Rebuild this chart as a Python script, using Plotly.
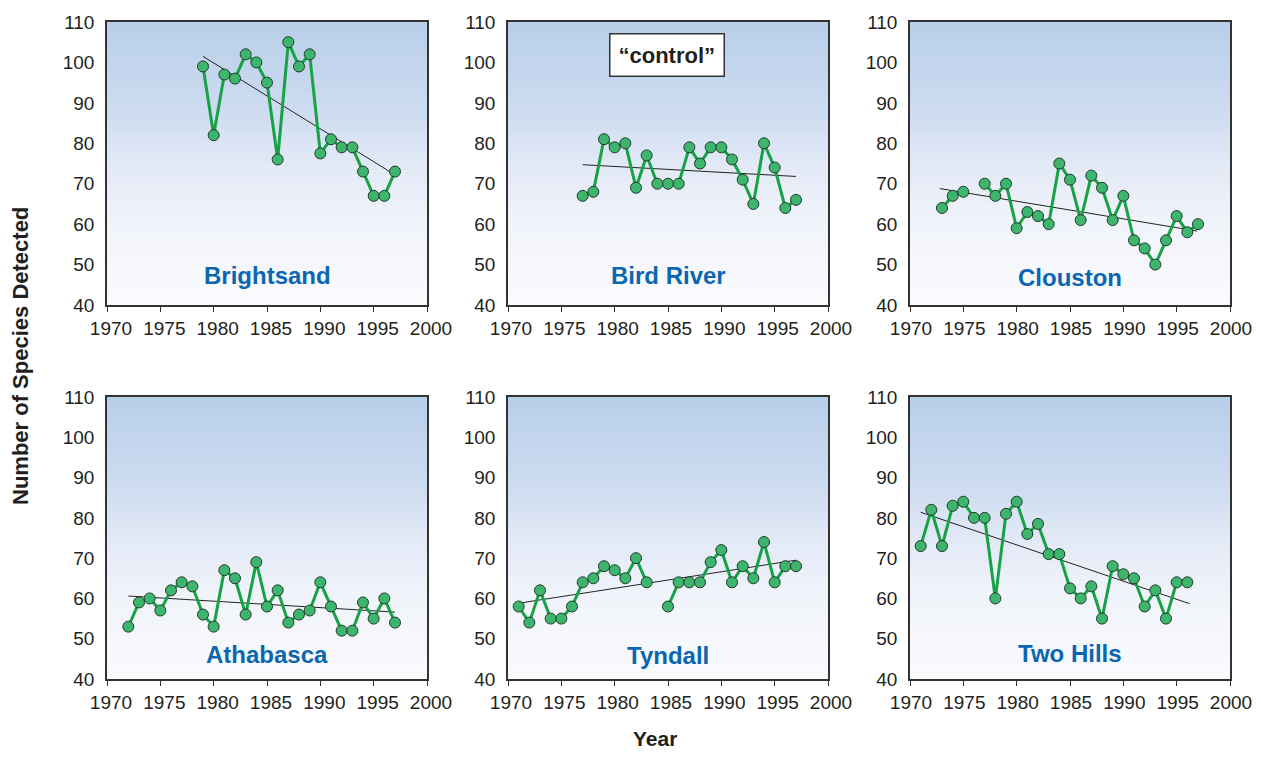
import base64
import struct
import zlib

import plotly.graph_objects as go
from plotly.subplots import make_subplots

# ---- data ----
sites = ["Brightsand", "Bird River", "Clouston", "Athabasca", "Tyndall", "Two Hills"]

brightsand_years = list(range(1979, 1998))
brightsand_vals = [99, 82, 97, 96, 102, 100, 95, 76, 105, 99, 102, 77.5, 81, 79, 79, 73, 67, 67, 73]
brightsand_trend_x = [1979, 1996.5]
brightsand_trend_y = [101.5, 73]

birdriver_years = list(range(1977, 1998))
birdriver_vals = [67, 68, 81, 79, 80, 69, 77, 70, 70, 70, 79, 75, 79, 79, 76, 71, 65, 80, 74, 64, 66]
birdriver_trend_x = [1977, 1997]
birdriver_trend_y = [74.7, 71.8]

clouston_years = list(range(1973, 1998))
clouston_vals = [64, 67, 68, None, 70, 67, 70, 59, 63, 62, 60, 75, 71, 61, 72, 69, 61, 67, 56, 54, 50, 56, 62, 58, 60]
clouston_trend_x = [1972.8, 1996.9]
clouston_trend_y = [68.8, 58.3]

athabasca_years = list(range(1972, 1998))
athabasca_vals = [53, 59, 60, 57, 62, 64, 63, 56, 53, 67, 65, 56, 69, 58, 62, 54, 56, 57, 64, 58, 52, 52, 59, 55, 60, 54]
athabasca_trend_x = [1972, 1997]
athabasca_trend_y = [60.6, 56.6]

tyndall_years = list(range(1971, 1998))
tyndall_vals = [58, 54, 62, 55, 55, 58, 64, 65, 68, 67, 65, 70, 64, None, 58, 64, 64, 64, 69, 72, 64, 68, 65, 74, 64, 68, 68]
tyndall_trend_x = [1971, 1997]
tyndall_trend_y = [58.8, 69.5]

twohills_years = list(range(1971, 1997))
twohills_vals = [73, 82, 73, 83, 84, 80, 80, 60, 81, 84, 76, 78.5, 71, 71, 62.5, 60, 63, 55, 68, 66, 65, 58, 62, 55, 64, 64]
twohills_trend_x = [1971, 1996.2]
twohills_trend_y = [81.4, 58.7]

x_ticks = [1970, 1975, 1980, 1985, 1990, 1995, 2000]
y_ticks = [40, 50, 60, 70, 80, 90, 100, 110]

series = [
    (brightsand_years, brightsand_vals, brightsand_trend_x, brightsand_trend_y),
    (birdriver_years, birdriver_vals, birdriver_trend_x, birdriver_trend_y),
    (clouston_years, clouston_vals, clouston_trend_x, clouston_trend_y),
    (athabasca_years, athabasca_vals, athabasca_trend_x, athabasca_trend_y),
    (tyndall_years, tyndall_vals, tyndall_trend_x, tyndall_trend_y),
    (twohills_years, twohills_vals, twohills_trend_x, twohills_trend_y),
]


# sky-ish vertical gradient used as the plot background
def gradient_png():
    stops = [(0.0, (184, 207, 233)), (0.3, (204, 219, 240)), (0.5, (226, 233, 246)),
             (0.7, (240, 243, 250)), (1.0, (250, 251, 253))]
    h = 256
    rows = []
    for i in range(h):
        t = i / (h - 1)
        for (t0, c0), (t1, c1) in zip(stops[:-1], stops[1:]):
            if t0 <= t <= t1:
                f = (t - t0) / (t1 - t0)
                rows.append(bytes(int(round(a + (b - a) * f)) for a, b in zip(c0, c1)))
                break
    raw = b"".join(b"\x00" + r for r in rows)

    def chunk(tag, data):
        c = struct.pack(">I", len(data)) + tag + data
        return c + struct.pack(">I", zlib.crc32(tag + data) & 0xFFFFFFFF)

    png = b"\x89PNG\r\n\x1a\n" + chunk(b"IHDR", struct.pack(">IIBBBBB", 1, h, 8, 2, 0, 0, 0))
    png += chunk(b"IDAT", zlib.compress(raw)) + chunk(b"IEND", b"")
    return "data:image/png;base64," + base64.b64encode(png).decode()


bg = gradient_png()

# page body has an 8px margin, so the figure is 16px smaller than the window
W, H = 1245, 744
# plot boxes in figure pixels (left, right, top, bottom)
col_px = [(99, 419), (500, 820), (902, 1222)]
row_px = [(14, 297), (389, 671)]
label_shift = [4, 3, 1]
label_y = [0.105, 0.105, 0.098, 0.087, 0.085, 0.089]

fig = make_subplots(rows=2, cols=3)

tick_font = dict(family="Liberation Sans, Arial", size=19, color="#231f20")
line_green = "#16a245"
marker_green = "#3db56c"

for i, (yrs, vals, tx, ty) in enumerate(series):
    r, c = i // 3 + 1, i % 3 + 1
    fig.add_trace(go.Scatter(x=tx, y=ty, mode="lines", line=dict(color="#222222", width=1),
                             showlegend=False, hoverinfo="skip"), row=r, col=c)
    fig.add_trace(go.Scatter(x=yrs, y=vals, mode="lines+markers", connectgaps=False,
                             line=dict(color=line_green, width=3),
                             marker=dict(size=11, color=marker_green, line=dict(color="#1f3b2b", width=1)),
                             showlegend=False, name=sites[i]), row=r, col=c)

    (x0, x1), (y0, y1) = col_px[c - 1], row_px[r - 1]
    dom_x = [x0 / W, x1 / W]
    dom_y = [1 - y1 / H, 1 - y0 / H]
    fig.update_xaxes(domain=dom_x, range=[1970, 2000], tickvals=x_ticks, ticks="outside", ticklen=5,
                     tickcolor="#333333", showline=True, linecolor="#333333", linewidth=1.5, mirror=True,
                     showgrid=False, zeroline=False, tickfont=tick_font, ticklabelshift=label_shift[c - 1],
                     automargin=False, row=r, col=c)
    fig.update_yaxes(domain=dom_y, range=[40, 110], tickvals=y_ticks, ticks="", showline=True,
                     linecolor="#333333", linewidth=1.5, mirror=True, showgrid=False, zeroline=False,
                     tickfont=tick_font, ticklabelstandoff=7, automargin=False, row=r, col=c)

    fig.add_layout_image(dict(source=bg, xref="paper", yref="paper", x=dom_x[0], y=dom_y[1],
                              sizex=dom_x[1] - dom_x[0], sizey=dom_y[1] - dom_y[0],
                              sizing="stretch", xanchor="left", yanchor="top", layer="below"))

    fig.add_annotation(text="<b>%s</b>" % sites[i], x=0.5, y=label_y[i],
                       xref="x%s domain" % ("" if i == 0 else i + 1),
                       yref="y%s domain" % ("" if i == 0 else i + 1), showarrow=False,
                       xanchor="center", yanchor="middle",
                       font=dict(family="Liberation Sans, Arial", size=24, color="#0b66b2"))

fig.add_annotation(text="<b>\u201ccontrol\u201d</b>", x=0.497, y=0.883, xref="x2 domain", yref="y2 domain",
                   xanchor="center", yanchor="middle",
                   showarrow=False, bgcolor="white", bordercolor="#333333", borderwidth=1.5, borderpad=8,
                   font=dict(family="Liberation Sans, Arial", size=22, color="#231f20"))

fig.add_annotation(text="<b>Number of Species Detected</b>", x=12 / W, y=1 - 348 / H, xref="paper", yref="paper",
                   xanchor="center", yanchor="middle",
                   textangle=-90, showarrow=False, font=dict(family="Liberation Sans, Arial", size=22, color="#231f20"))
fig.add_annotation(text="<b>Year</b>", x=647 / W, y=0, xref="paper", yref="paper",
                   xanchor="center", yanchor="bottom",
                   showarrow=False, font=dict(family="Liberation Sans, Arial", size=21, color="#231f20"))

fig.update_layout(width=W, height=H, margin=dict(l=0, r=0, t=0, b=0),
                  paper_bgcolor="white", plot_bgcolor="rgba(0,0,0,0)")

fig.write_html("out.html")
